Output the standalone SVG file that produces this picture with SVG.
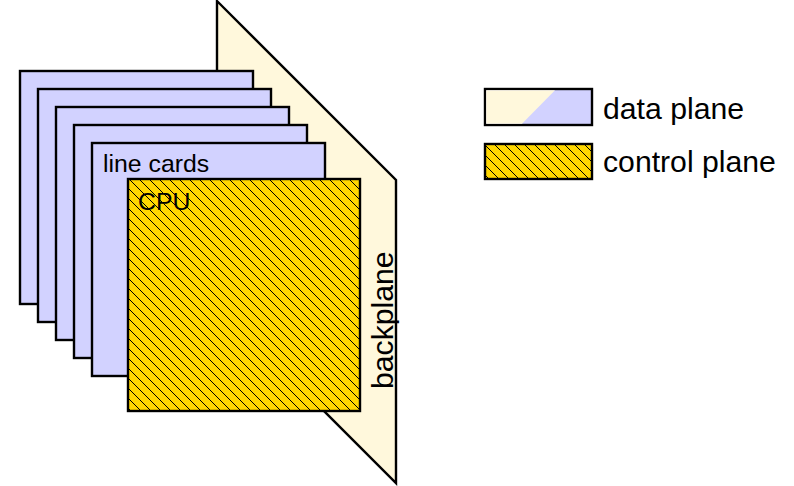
<svg xmlns="http://www.w3.org/2000/svg" width="794" height="486" viewBox="0 0 794 486">
<style>
.o{stroke:#000;stroke-width:2.4;stroke-linejoin:miter}
.card{fill:#d2d2ff}
.back{fill:#fff8dc}
.cpu{fill:url(#hatch)}
text{font-family:"Liberation Sans",Arial,sans-serif;fill:#000}
.big{font-size:30.2px}
.small{font-size:24.8px}
</style>
<defs>
<pattern id="hatch" patternUnits="userSpaceOnUse" width="10" height="10">
<rect width="10" height="10" fill="#ffd700"/>
<path d="M-1,-1L11,11" stroke="#000" stroke-width="1" shape-rendering="crispEdges"/>
</pattern>
</defs>
<rect width="794" height="486" fill="#fff"/>
<g id="backplane"><path class="o back" d="M217,1L396,180V483L217,304Z"/><text class="big" transform="translate(393,389) rotate(-90)">backplane</text></g>
<g id="card1"><rect class="o card" x="20" y="71" width="233" height="233"/></g>
<g id="card2"><rect class="o card" x="38" y="89" width="233" height="233"/></g>
<g id="card3"><rect class="o card" x="56" y="107" width="233" height="233"/></g>
<g id="card4"><rect class="o card" x="74" y="125" width="233" height="233"/></g>
<g id="card5"><rect class="o card" x="92" y="143" width="233" height="233"/><text class="small" x="103" y="172">line cards</text></g>
<g id="cpu"><rect class="o cpu" x="128" y="179" width="232" height="232"/><text class="small" x="138" y="210">CPU</text></g>
<g id="legend-data"><rect class="o" x="485" y="89" width="107" height="36" fill="#d2d2ff"/><path class="back" d="M486.200,90.200H555L522,123.800H486.200Z"/><text class="big" x="603" y="119">data plane</text></g>
<g id="legend-control"><rect class="o cpu" x="485" y="144" width="107" height="35"/><text class="big" x="603" y="172">control plane</text></g>
<g id="connectors"/>
</svg>
